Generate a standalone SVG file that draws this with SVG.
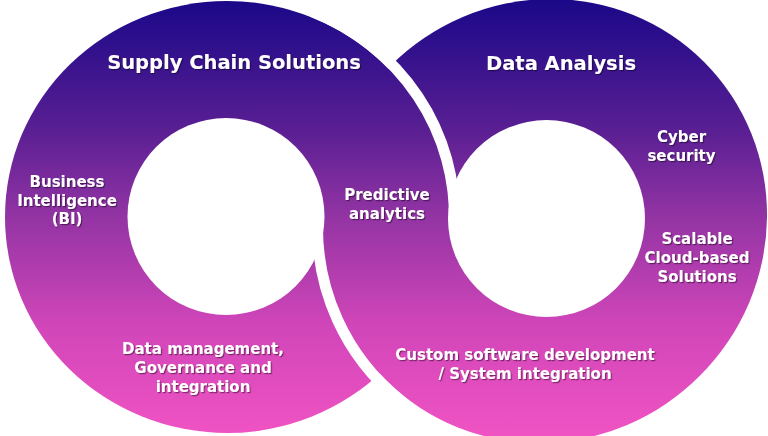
<svg xmlns="http://www.w3.org/2000/svg" width="768" height="436" viewBox="0 0 768 436">
<defs>
<linearGradient id="g" gradientUnits="userSpaceOnUse" x1="0" y1="0" x2="0" y2="436">
<stop offset="0" stop-color="#1a0888"/>
<stop offset="0.3" stop-color="#5a1f93"/>
<stop offset="0.5" stop-color="#9434a4"/>
<stop offset="0.75" stop-color="#d146b9"/>
<stop offset="1" stop-color="#f053c3"/>
</linearGradient>
<filter id="sh" x="-10%" y="-30%" width="120%" height="160%">
<feDropShadow dx="1.2" dy="1.2" stdDeviation="0.7" flood-color="#000" flood-opacity="0.45"/>
</filter>
</defs>
<style>
.band{fill:url(#g)}
.hole{fill:#fff}
.gap{fill:none;stroke:#fff;stroke-width:11}
text{font-family:"DejaVu Sans",Verdana,sans-serif;font-weight:bold;fill:#fff;text-anchor:middle;filter:url(#sh)}
.t{font-size:19.5px}
.s{font-size:15px}
</style>
<rect width="768" height="436" fill="#fff"/>
<g id="ring-supply-chain">
<ellipse class="band" cx="227" cy="217" rx="222" ry="216"/>
</g>
<g id="ring-data-analysis">
<path class="band" d="M704.1 61.9 A225 219 -45 1 1 385.9 380.1 A225 219 -45 1 1 704.1 61.9 Z"/>
</g>
<g id="holes">
<circle class="hole" cx="226" cy="216.5" r="98.5"/>
<circle class="hole" cx="546.5" cy="218.5" r="98.5"/>
</g>
<g id="gaps">
<path class="gap" d="M312.2 11.6 A227.5 221.5 0 0 1 454.4 224.7"/>
<path class="gap" d="M317.6 220 A230.5 224.5 -45 0 0 399.5 399.7"/>
</g>
<g id="title-supply-chain"><text class="t" x="234" y="69">Supply Chain Solutions</text></g>
<g id="title-data-analysis"><text class="t" x="561" y="70">Data Analysis</text></g>
<g id="label-bi"><text class="s" x="67" y="187">Business</text><text class="s" x="67" y="205.5">Intelligence</text><text class="s" x="67" y="224">(BI)</text></g>
<g id="label-predictive"><text class="s" x="387" y="200">Predictive</text><text class="s" x="387" y="218.5">analytics</text></g>
<g id="label-cyber"><text class="s" x="681.5" y="141.5">Cyber</text><text class="s" x="681.5" y="160.5">security</text></g>
<g id="label-cloud"><text class="s" x="697" y="244">Scalable</text><text class="s" x="697" y="263">Cloud-based</text><text class="s" x="697" y="282">Solutions</text></g>
<g id="label-data-management"><text class="s" x="203" y="354">Data management,</text><text class="s" x="203" y="373">Governance and</text><text class="s" x="203" y="392">integration</text></g>
<g id="label-custom-software"><text class="s" x="525" y="359.5">Custom software development</text><text class="s" x="525" y="378.5">/ System integration</text></g>
</svg>
